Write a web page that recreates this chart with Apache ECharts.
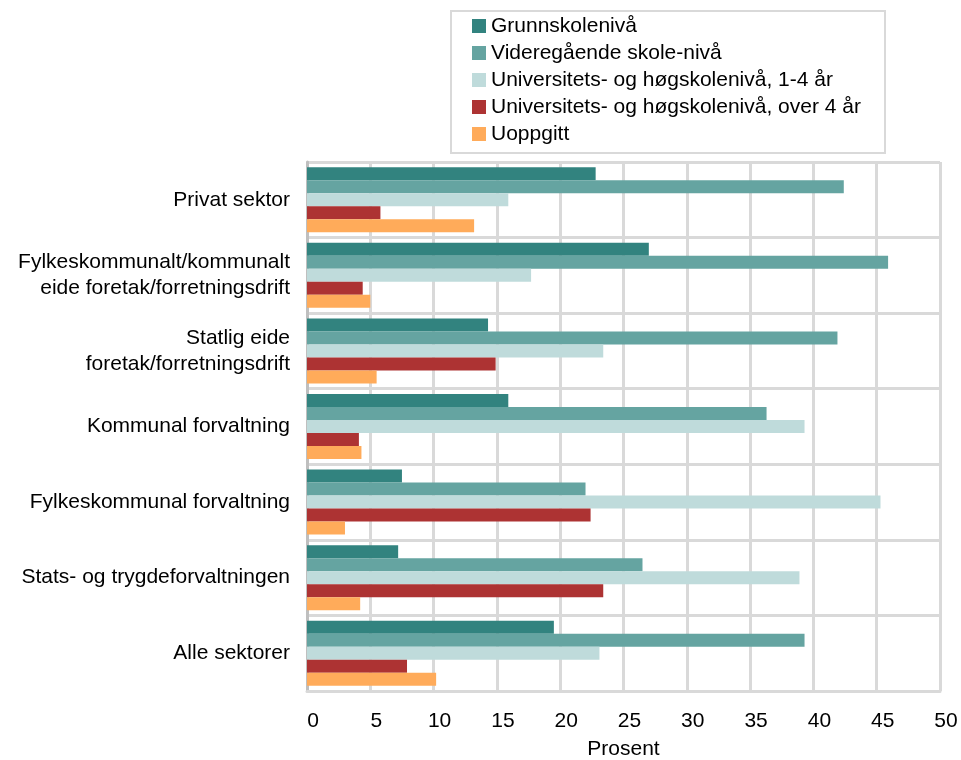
<!DOCTYPE html>
<html>
<head>
<meta charset="utf-8">
<script src="https://cdn.jsdelivr.net/npm/echarts@6/dist/echarts.min.js"></script>
<style>
html,body{margin:0;padding:0;background:#fff}
#chart{width:961px;height:760px}
</style>
</head>
<body>
<div id="chart"></div>
<script>
// sectors, top to bottom
const sectors=["Privat sektor","Fylkeskommunalt/kommunalt\neide foretak/forretningsdrift","Statlig eide\nforetak/forretningsdrift","Kommunal forvaltning","Fylkeskommunal forvaltning","Stats- og trygdeforvaltningen","Alle sektorer"]
const levelNames=["Grunnskolenivå","Videregående skole-nivå","Universitets- og høgskolenivå, 1-4 år","Universitets- og høgskolenivå, over 4 år","Uoppgitt"]
const grunnskole=[22.8,27.0,14.3,15.9,7.5,7.2,19.5]
const videregaende=[42.4,45.9,41.9,36.3,22.0,26.5,39.3]
const univKort=[15.9,17.7,23.4,39.3,45.3,38.9,23.1]
const univLang=[5.8,4.4,14.9,4.1,22.4,23.4,7.9]
const uoppgitt=[13.2,5.0,5.5,4.3,3.0,4.2,10.2]
const xTicks=[0,5,10,15,20,25,30,35,40,45,50]
const colors=["#32837f","#65a4a1","#bfdbdb","#ad3333","#ffab5a"]

const seriesData=[grunnskole,videregaende,univKort,univLang,uoppgitt]
const font="Liberation Sans, Arial, sans-serif"
const fs=21

const chart=echarts.init(document.getElementById("chart"))
chart.setOption({
	animation:false,
	color:colors,
	textStyle:{fontFamily:font},
	graphic:[{
		type:"rect",
		shape:{x:451,y:11,width:434,height:142},
		style:{fill:"#fff",stroke:"#d9d9d9",lineWidth:2},
		z:-1
	}],
	legend:{
		orient:"vertical",
		left:472,
		top:14,
		padding:0,
		itemWidth:14,
		itemHeight:14,
		itemGap:3,
		icon:"rect",
		data:levelNames,
		textStyle:{fontSize:fs,color:"#000",fontFamily:font,lineHeight:24}
	},
	grid:{
		left:307,
		right:21,
		top:162,
		bottom:69,
		outerBoundsMode:"none"
	},
	xAxis:{
		type:"value",
		min:xTicks[0],
		max:xTicks[xTicks.length-1],
		interval:5,
		name:"Prosent",
		nameLocation:"middle",
		nameGap:48,
		nameTextStyle:{fontSize:fs,color:"#000",fontFamily:font},
		axisLine:{show:true,lineStyle:{color:"#d9d9d9",width:3}},
		axisTick:{show:false},
		axisLabel:{fontSize:fs,color:"#000",margin:20,padding:[0,0,0,12],fontFamily:font},
		splitLine:{show:true,lineStyle:{color:"#d9d9d9",width:3}}
	},
	yAxis:{
		type:"category",
		inverse:true,
		data:sectors,
		axisLine:{show:true,lineStyle:{color:"#bfbfbf",width:3}},
		axisTick:{show:false},
		axisLabel:{fontSize:fs,color:"#000",margin:17,lineHeight:26,align:"right",fontFamily:font},
		splitLine:{show:true,lineStyle:{color:"#d9d9d9",width:3}}
	},
	series:seriesData.map((vals,i)=>({
		name:levelNames[i],
		type:"bar",
		data:vals,
		barGap:"0%",
		barCategoryGap:"14%",
		z:3
	}))
})
</script>
</body>
</html>
